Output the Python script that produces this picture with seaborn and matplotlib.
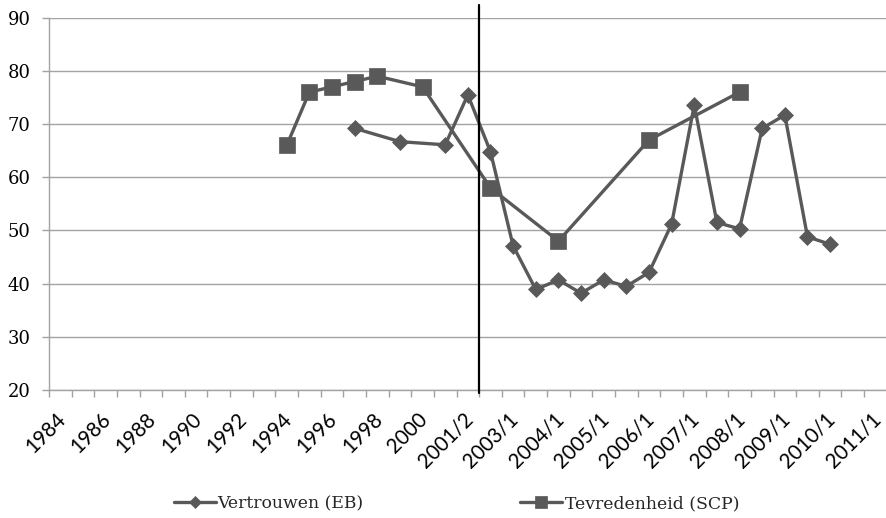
import matplotlib
matplotlib.use("Agg")
import matplotlib.pyplot as plt
import matplotlib.transforms as mtransforms
import seaborn as sns
import pandas as pd

# ---- data -------------------------------------------------------------
categories = ["1984", "1985", "1986", "1987", "1988", "1989", "1990", "1991",
              "1992", "1993", "1994", "1995", "1996", "1997", "1998", "1999",
              "2000", "2001/1", "2001/2", "2002",
              "2003/1", "2003/2", "2004/1", "2004/2", "2005/1", "2005/2",
              "2006/1", "2006/2", "2007/1", "2007/2", "2008/1", "2008/2",
              "2009/1", "2009/2", "2010/1", "2010/2", "2011/1"]

tick_labels = ["1984", "1986", "1988", "1990", "1992", "1994", "1996", "1998",
               "2000", "2001/2", "2003/1", "2004/1", "2005/1", "2006/1",
               "2007/1", "2008/1", "2009/1", "2010/1", "2011/1"]

eb_cats = ["1997", "1999", "2001/1", "2001/2", "2002", "2003/1", "2003/2",
           "2004/1", "2004/2", "2005/1", "2005/2", "2006/1", "2006/2",
           "2007/1", "2007/2", "2008/1", "2008/2", "2009/1", "2009/2", "2010/1"]
eb_vals = [69.2, 66.7, 66.1, 75.5, 64.8, 47.1, 38.9,
           40.7, 38.2, 40.7, 39.5, 42.1, 51.2,
           73.6, 51.5, 50.3, 69.2, 71.7, 48.8, 47.4]

scp_cats = ["1994", "1995", "1996", "1997", "1998", "2000", "2002",
            "2004/1", "2006/1", "2008/1"]
scp_vals = [66, 76, 77, 78, 79, 77, 58, 48, 67, 76]

eb_label = "Vertrouwen (EB)"
scp_label = "Tevredenheid (SCP)"
marker_line = "2001/2"

# ---- style ------------------------------------------------------------
GRAY = "#595959"
GRID = "#a3a3a3"

sns.set_theme(style="white")
plt.rcParams["font.family"] = ["DejaVu Serif"]

fig = plt.figure(figsize=(8.86, 5.18), dpi=100)
ax = fig.add_axes([0.0553, 0.2471, 0.9455, 0.7187])

eb_df = pd.DataFrame({"pos": [categories.index(c) for c in eb_cats], "val": eb_vals})
scp_df = pd.DataFrame({"pos": [categories.index(c) for c in scp_cats], "val": scp_vals})

sns.lineplot(data=eb_df, x="pos", y="val", ax=ax, color=GRAY, linewidth=2.4,
             marker="D", markersize=8.2, markeredgecolor=GRAY, markeredgewidth=0.5,
             label=eb_label, zorder=3)
sns.lineplot(data=scp_df, x="pos", y="val", ax=ax, color=GRAY, linewidth=2.4,
             marker="s", markersize=11.5, markeredgecolor=GRAY, markeredgewidth=0.5,
             label=scp_label, zorder=4)

# vertical marker line at the boundary after 2001/2
ax.axvline(categories.index(marker_line) + 0.5, ymin=-0.008, ymax=1.034,
           color="black", linewidth=1.6, clip_on=False, zorder=6)

# ---- axes ---------------------------------------------------------------
ax.set_xlim(-0.5, len(categories) - 0.5)
ax.set_ylim(20, 90)
ax.set_yticks(range(20, 91, 10))
ax.set_xticks([categories.index(t) for t in tick_labels])
ax.set_xticklabels(tick_labels, rotation=45, ha="right", va="top",
                   rotation_mode="anchor", fontfamily="Lato", fontsize=14.8,
                   color="black")
ax.set_xticks([i - 0.5 for i in range(len(categories) + 1)], minor=True)
ax.tick_params(axis="x", which="major", length=0, pad=13.5, bottom=True)
ax.tick_params(axis="x", which="minor", length=4.8, width=1, color=GRID,
               direction="out", bottom=True)
ax.tick_params(axis="y", which="major", length=5, width=1, color=GRID,
               direction="out", left=True, pad=8.4, labelsize=13,
               labelcolor="black")
offset = mtransforms.ScaledTranslation(-5 / 100, 0, fig.dpi_scale_trans)
for lab in ax.get_xticklabels():
    lab.set_transform(lab.get_transform() + offset)

ax.yaxis.grid(True, color=GRID, linewidth=1.0)
ax.xaxis.grid(False)
for s in ["top", "right"]:
    ax.spines[s].set_visible(False)
for s in ["left", "bottom"]:
    ax.spines[s].set_color(GRID)
    ax.spines[s].set_linewidth(1.0)
ax.set_xlabel("")
ax.set_ylabel("")

handles, labels = ax.get_legend_handles_labels()
ax.get_legend().remove()
fig.legend(handles, labels, loc="center", bbox_to_anchor=(0.515, 0.027),
           ncol=2, frameon=False, fontsize=12.4, handlelength=2.44,
           handletextpad=0.12, columnspacing=9.1, markerscale=0.75)

fig.savefig("out.png", dpi=100)
